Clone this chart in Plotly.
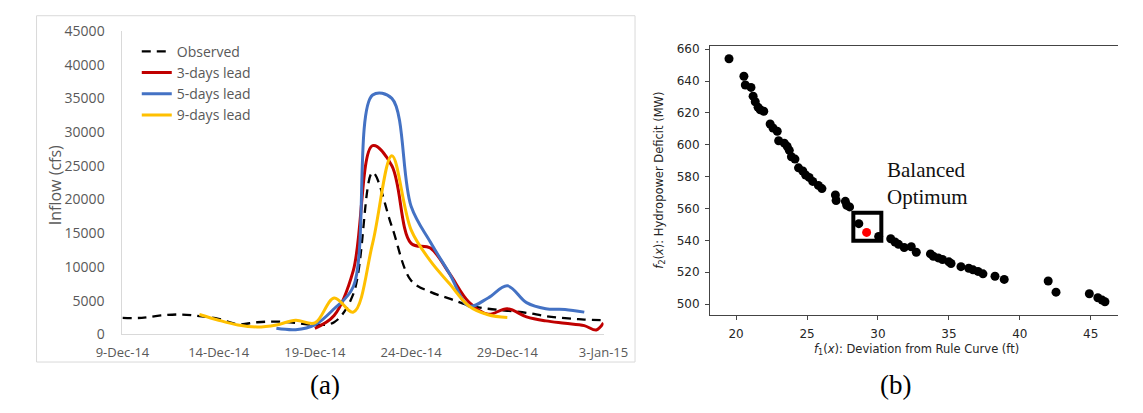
import plotly.graph_objects as go

W, H = 1143, 413

# ---------------- data: panel (a) ----------------
obs_dates = ["2014-12-09", "2014-12-10", "2014-12-11", "2014-12-12", "2014-12-13", "2014-12-14",
             "2014-12-15", "2014-12-16", "2014-12-17", "2014-12-18", "2014-12-19", "2014-12-20",
             "2014-12-21", "2014-12-22", "2014-12-23", "2014-12-24", "2014-12-25", "2014-12-26",
             "2014-12-27", "2014-12-28", "2014-12-29", "2014-12-30", "2014-12-31", "2015-01-01",
             "2015-01-02", "2015-01-03"]
obs_vals = [2450, 2450, 2800, 2950, 2700, 2300, 1500, 1800, 1900, 1700, 1400, 1800,
            6000, 24000, 16000, 8000, 6300, 5300, 4300, 3800, 3500, 3200, 2700, 2400,
            2200, 2100]

lead3_dates = ["2014-12-19", "2014-12-20", "2014-12-21", "2014-12-22", "2014-12-23", "2014-12-24",
               "2014-12-25", "2014-12-26", "2014-12-27", "2014-12-28", "2014-12-29", "2014-12-30",
               "2014-12-31", "2015-01-01", "2015-01-02", "2015-01-02 15:00", "2015-01-03"]
lead3_vals = [900, 2800, 9500, 28000, 25000, 13500, 12800, 9000, 4800, 3000, 3800, 2600,
              2000, 1650, 1300, 650, 1700]

lead5_dates = ["2014-12-17", "2014-12-18", "2014-12-19", "2014-12-20", "2014-12-21", "2014-12-22",
               "2014-12-23", "2014-12-24", "2014-12-25", "2014-12-26", "2014-12-27", "2014-12-28",
               "2014-12-29", "2014-12-30", "2014-12-31", "2015-01-01", "2015-01-02"]
lead5_vals = [900, 700, 1400, 3800, 7100, 35500, 35000, 19000, 13700, 9000, 4200, 5400,
              7200, 4700, 3800, 3700, 3300]

lead9_dates = ["2014-12-13", "2014-12-14", "2014-12-15", "2014-12-16", "2014-12-17", "2014-12-18",
               "2014-12-19", "2014-12-20", "2014-12-21", "2014-12-22", "2014-12-23", "2014-12-24",
               "2014-12-25", "2014-12-26", "2014-12-27", "2014-12-28", "2014-12-29"]
lead9_vals = [2950, 2100, 1400, 1100, 1400, 2100, 1700, 5400, 3300, 13500, 26500, 15500,
              10900, 7500, 4200, 2900, 2500]

a_tick_dates = ["2014-12-09", "2014-12-14", "2014-12-19", "2014-12-24", "2014-12-29", "2015-01-03"]
a_tick_text = ["9-Dec-14", "14-Dec-14", "19-Dec-14", "24-Dec-14", "29-Dec-14", "3-Jan-15"]
a_y_ticks = [0, 5000, 10000, 15000, 20000, 25000, 30000, 35000, 40000, 45000]

# ---------------- data: panel (b) ----------------
f1_vals = [19.5, 20.55, 20.65, 21.05, 21.2, 21.35, 21.55, 21.7, 21.95, 22.4, 22.6, 22.9, 23.0,
           23.4, 23.6, 23.75, 23.9, 24.15, 24.4, 24.7, 24.9, 25.15, 25.4, 25.8, 26.05, 27.0,
           27.05, 27.7, 27.8, 28.0, 28.65, 30.05, 30.9, 31.2, 31.45, 31.85, 32.35, 32.7, 33.7,
           33.9, 34.25, 34.55, 35.0, 35.15, 35.85, 36.4, 36.7, 37.05, 37.4, 38.25, 38.9, 42.0,
           42.55, 44.9, 45.5, 45.8, 46.0]
f2_vals = [654, 643, 637.5, 636, 630.5, 627, 623.5, 622, 621, 613, 610.5, 608.5, 602.5,
           601, 599, 596.5, 592.5, 591, 585.5, 583.5, 581, 579.5, 577, 574.5, 572.5, 568.5,
           565, 564.5, 562, 561, 550.5, 542.5, 541, 539, 537.5, 535.5, 536, 532.5, 531.5,
           530, 529, 528, 526.5, 525.5, 523.5, 522.5, 521.5, 520.5, 519, 517.5, 515.5, 514.5,
           507.5, 506.5, 504, 502.5, 501.5]
opt_f1 = [29.2]
opt_f2 = [545]
box_f1 = [29.25]
box_f2 = [548.5]
b_x_ticks = [20, 25, 30, 35, 40, 45]
b_y_ticks = [500, 520, 540, 560, 580, 600, 620, 640, 660]


def px(x):
    return x / W


def py(y):
    return 1 - y / H


fig = go.Figure()

LW = 3
fig.add_trace(go.Scatter(x=obs_dates, y=obs_vals, mode="lines", name="Observed",
                         line=dict(color="black", width=2.3, dash="9px,6px", shape="spline", smoothing=1),
                         xaxis="x", yaxis="y"))
fig.add_trace(go.Scatter(x=lead3_dates, y=lead3_vals, mode="lines", name="3-days lead",
                         line=dict(color="#C00000", width=LW, shape="spline", smoothing=1),
                         xaxis="x", yaxis="y"))
fig.add_trace(go.Scatter(x=lead5_dates, y=lead5_vals, mode="lines", name="5-days lead",
                         line=dict(color="#4472C4", width=LW, shape="spline", smoothing=1),
                         xaxis="x", yaxis="y"))
fig.add_trace(go.Scatter(x=lead9_dates, y=lead9_vals, mode="lines", name="9-days lead",
                         line=dict(color="#FFC000", width=LW, shape="spline", smoothing=1),
                         xaxis="x", yaxis="y"))

fig.add_trace(go.Scatter(x=f1_vals, y=f2_vals, mode="markers", showlegend=False,
                         marker=dict(color="black", size=9, line=dict(width=0)),
                         xaxis="x2", yaxis="y2"))
fig.add_trace(go.Scatter(x=opt_f1, y=opt_f2, mode="markers", showlegend=False,
                         marker=dict(color="#ff0000", size=9, line=dict(width=0)),
                         xaxis="x2", yaxis="y2"))
fig.add_trace(go.Scatter(x=box_f1, y=box_f2, mode="markers", showlegend=False,
                         marker=dict(symbol="square-open", color="black", size=28,
                                     line=dict(color="black", width=4)),
                         xaxis="x2", yaxis="y2"))

a_font = dict(family="Open Sans", color="#595959")
b_font = dict(family="DejaVu Sans", color="#262626")

fig.update_layout(
    width=W, height=H, autosize=False,
    margin=dict(l=0, r=0, t=0, b=0),
    paper_bgcolor="white", plot_bgcolor="white",
    showlegend=True,
    legend=dict(x=px(115), y=py(27), xanchor="left", yanchor="top",
                bgcolor="rgba(0,0,0,0)", font=dict(family="Open Sans", size=14, color="#595959"),
                itemwidth=30, tracegroupgap=0),
    xaxis=dict(domain=[px(100), px(604)], type="date",
               range=["2014-12-09", "2015-01-03"],
               tickvals=a_tick_dates, ticktext=a_tick_text,
               showgrid=False, zeroline=False, showline=True, linecolor="#d9d9d9", linewidth=1,
               ticks="", tickfont=dict(size=13, **a_font), ticklabelstandoff=6,
               anchor="y"),
    yaxis=dict(domain=[py(340), py(22)], range=[0, 45000], tickvals=a_y_ticks,
               tickformat="d",
               showgrid=False, zeroline=False, showline=True, linecolor="#d9d9d9", linewidth=1,
               ticks="", tickfont=dict(size=14, **a_font), ticklabelstandoff=14,
               anchor="x"),
    xaxis2=dict(domain=[px(715.7), 1.0], range=[18.17, 46.92], tickvals=b_x_ticks,
                showgrid=False, zeroline=False, showline=True, mirror=True,
                linecolor="#444444", linewidth=1.2,
                ticks="outside", ticklen=4, tickwidth=1, tickcolor="#444444",
                tickfont=dict(size=12, **b_font), ticklabelstandoff=4,
                anchor="y2"),
    yaxis2=dict(domain=[py(319.3), py(37.7)], range=[493.4, 662.0], tickvals=b_y_ticks,
                showgrid=False, zeroline=False, showline=True, mirror=False,
                linecolor="#444444", linewidth=1.2,
                ticks="outside", ticklen=4, tickwidth=1, tickcolor="#444444",
                tickfont=dict(size=12, **b_font), ticklabelstandoff=3,
                anchor="x2"),
)

# outer frame of panel (a)
fig.add_shape(type="rect", xref="paper", yref="paper",
              x0=px(10), x1=px(637), y0=py(369), y1=py(6),
              line=dict(color="#d9d9d9", width=1), fillcolor="rgba(0,0,0,0)", layer="below")

ann = []
ann.append(dict(text="Inflow (cfs)", xref="paper", yref="paper", x=px(29), y=py(184),
                textangle=-90, showarrow=False, font=dict(family="Open Sans", size=16, color="#595959"),
                xanchor="center", yanchor="middle"))
ann.append(dict(text="<i>f</i><sub>2</sub>(<i>x</i>): Hydropower Deficit (MW)", xref="paper", yref="paper",
                x=px(663), y=py(178), textangle=-90, showarrow=False,
                font=dict(family="DejaVu Sans", size=11.5, color="#262626"),
                xanchor="center", yanchor="middle"))
ann.append(dict(text="<i>f</i><sub>1</sub>(<i>x</i>): Deviation from Rule Curve (ft)", xref="paper", yref="paper",
                x=px(932), y=py(356), showarrow=False,
                font=dict(family="DejaVu Sans", size=11.5, color="#262626"),
                xanchor="center", yanchor="middle"))
ann.append(dict(text="Balanced<br>Optimum", xref="paper", yref="paper", x=px(899), y=py(153),
                showarrow=False, align="left",
                font=dict(family="Liberation Serif", size=21, color="#111111"),
                xanchor="left", yanchor="top"))
ann.append(dict(text="(a)", xref="paper", yref="paper", x=px(312), y=py(393), showarrow=False,
                font=dict(family="Liberation Serif", size=27, color="black"),
                xanchor="center", yanchor="middle"))
ann.append(dict(text="(b)", xref="paper", yref="paper", x=px(910), y=py(393), showarrow=False,
                font=dict(family="Liberation Serif", size=27, color="black"),
                xanchor="center", yanchor="middle"))
fig.update_layout(annotations=ann)

fig.write_html("out.html")
